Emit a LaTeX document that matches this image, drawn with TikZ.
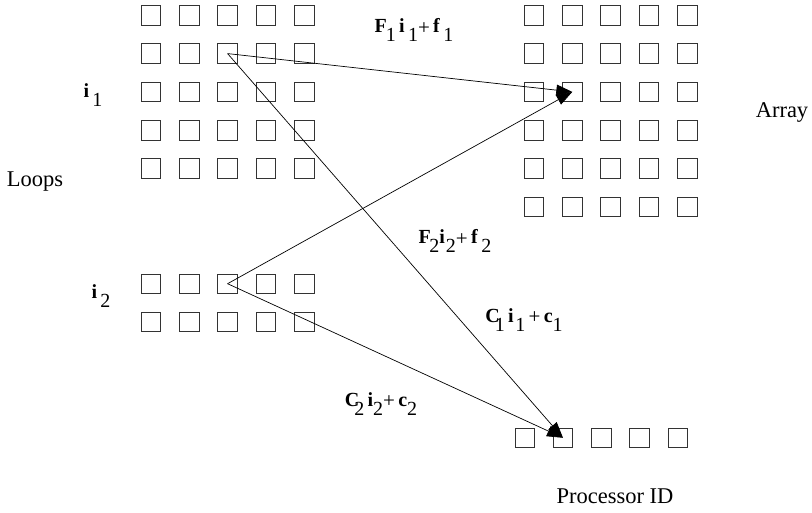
\documentclass[tikz,border=0pt]{standalone}
\usepackage{fontspec}
\setmainfont{Liberation Serif}
\usetikzlibrary{arrows.meta}
\newcommand{\lo}[1]{\raisebox{-0.42em}{#1}}
\newcommand{\pl}{\raisebox{-0.06em}{\fontsize{21}{22}\selectfont +}}
\tikzset{
  cell/.style={draw=black!80, line width=0.8pt, minimum size=19.5pt, inner sep=0pt},
  arr/.style={line width=0.7pt, -{Triangle[length=16pt,width=11pt]}},
  txt/.style={inner sep=0pt, font=\fontsize{22.5}{26}\selectfont},
  lab/.style={inner sep=0pt, font=\fontsize{20}{23}\selectfont}
}
\begin{document}
\begin{tikzpicture}[x=1pt,y=-1pt]
\useasboundingbox (0,0) rectangle (812,512);
% loop grid 1
\foreach \r in {1,...,5}{
  \foreach \c in {1,...,5}{
    \node[cell] (l1-\r-\c) at ({151+38.3*(\c-1)},{15.3+38.3*(\r-1)}) {};
  }
}
% array grid
\foreach \r in {1,...,6}{
  \foreach \c in {1,...,5}{
    \node[cell] (a-\r-\c) at ({534+38.3*(\c-1)},{15.3+38.3*(\r-1)}) {};
  }
}
% loop grid 2
\foreach \r in {1,2}{
  \foreach \c in {1,...,5}{
    \node[cell] (l2-\r-\c) at ({151+38.3*(\c-1)},{283.7+38.3*(\r-1)}) {};
  }
}
% processors
\foreach \c in {1,...,5}{
  \node[cell] (p-\c) at ({524.7+38.3*(\c-1)},437.8) {};
}
% arrows
\draw[arr] (l1-2-3.center) -- (a-3-2.center);
\draw[arr] (l2-1-3.center) -- (a-3-2.center);
\draw[arr] (l1-2-3.center) -- (p-2.center);
\draw[arr] (l2-1-3.center) -- (p-2.center);
% labels
\node[txt] (loops) at (35,182) {Loops};
\node[txt] (array) at (782,112) {Array};
\node[txt] (proc) at (615,496) {Processor ID};
\node[lab] (i1) at (93,95) {\textbf{i}\,\lo{1}};
\node[lab] (i2) at (101,296) {\textbf{i}\,\lo{2}};
\node[lab] (f1) at (414,30) {\textbf{F}\kern-0.05em\lo{1}\,\textbf{i}\,\lo{1}\pl\,\textbf{f}\,\lo{1}};
\node[lab] (f2) at (455,241) {\textbf{F}\kern-0.08em\lo{2}\textbf{i}\kern0.05em\lo{2}\pl\,\textbf{f}\,\lo{2}};
\node[lab] (c1) at (524,320) {\textbf{C}\kern-0.25em\lo{1}\,\textbf{i}\kern0.08em\lo{1}\,\pl\,\textbf{c}\lo{1}};
\node[lab] (c2) at (381,404) {\textbf{C}\kern-0.25em\lo{2}\,\textbf{i}\lo{2}\pl\,\textbf{c}\lo{2}};
\end{tikzpicture}
\end{document}
